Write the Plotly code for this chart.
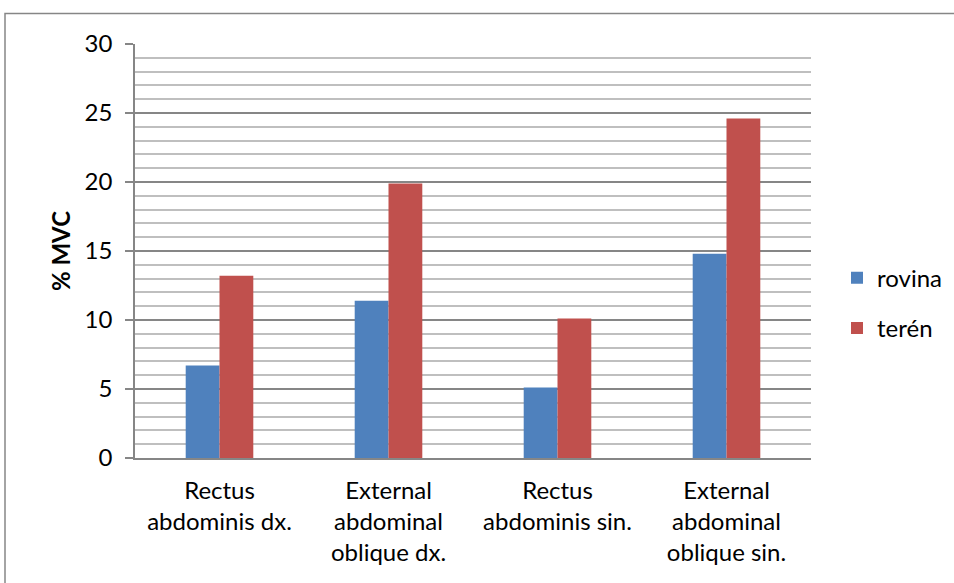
import plotly.graph_objects as go

categories = ["Rectus<br>abdominis dx.", "External<br>abdominal<br>oblique dx.",
              "Rectus<br>abdominis sin.", "External<br>abdominal<br>oblique sin."]
rovina = [6.7, 11.4, 5.1, 14.8]
teren = [13.2, 19.9, 10.1, 24.6]
series_names = ["rovina", "terén"]
y_ticks = [0, 5, 10, 15, 20, 25, 30]

W, H = 954, 583
L, R, T, B = 135, 143, 43.5, 125
pw = W - L - R
ph = H - T - B

def px_x(x):
    return (x - L) / pw

def px_y(y):
    return (H - B - y) / ph

fig = go.Figure()
fig.add_bar(x=categories, y=rovina, name=series_names[0], legendgroup="a",
            marker=dict(color="#4F81BD", line=dict(width=0)))
fig.add_bar(x=categories, y=teren, name=series_names[1], legendgroup="b",
            marker=dict(color="#C0504D", line=dict(width=0)))

font = "Lato, Carlito, Calibri, sans-serif"

fig.update_layout(
    width=W, height=H,
    margin=dict(l=L, r=R, t=T, b=B, autoexpand=False),
    paper_bgcolor="white", plot_bgcolor="white",
    barmode="group", bargap=0.6, bargroupgap=0,
    font=dict(family=font, size=24, color="black"),
    showlegend=True,
    legend=dict(x=px_x(837), y=px_y(303), xanchor="left", yanchor="middle",
                font=dict(size=24), tracegroupgap=16, itemwidth=30,
                bgcolor="rgba(0,0,0,0)"),
    xaxis=dict(showline=True, linecolor="#868686", linewidth=1.5, ticks="",
               tickfont=dict(size=24), showgrid=False, ticklabelstandoff=10),
    yaxis=dict(range=[0, 30], tickvals=y_ticks, showline=True, linecolor="#868686", linewidth=1.5,
               ticks="outside", ticklen=8, tickcolor="#868686", tickwidth=1.5,
               showgrid=True, gridcolor="#868686", gridwidth=1.5,
               minor=dict(dtick=1, showgrid=True, gridcolor="#BFBFBF", gridwidth=1.5, ticks=""),
               tickfont=dict(size=24), ticklabelstandoff=8,
               title=dict(text="<b>% MVC</b>", font=dict(size=24), standoff=7),
               zeroline=False),
    shapes=[dict(type="rect", xref="paper", yref="paper",
                 x0=px_x(5), x1=px_x(990), y0=px_y(620), y1=px_y(13),
                 line=dict(color="#868686", width=1.5), fillcolor="rgba(0,0,0,0)", layer="below")],
)

fig.write_html("out.html", config={"displayModeBar": False},
               post_script="document.body.style.margin='0px';document.body.style.overflow='hidden';")
